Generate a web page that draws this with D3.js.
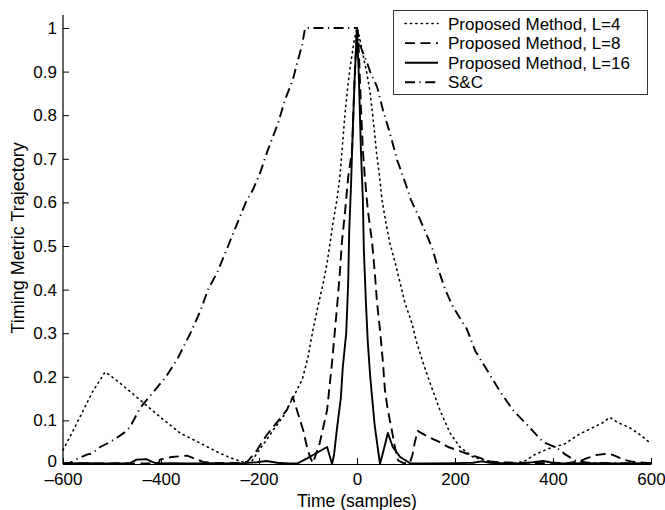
<!DOCTYPE html>
<html><head><meta charset="utf-8">
<script src="https://cdn.jsdelivr.net/npm/d3@7"></script>
<style>
body{margin:0;background:#fff;}
svg{font-family:"Liberation Sans",Arial,Helvetica,sans-serif;}
</style></head>
<body>
<svg id="c" width="665" height="510"></svg>
<script>
const xTicks = [-600,-400,-200,0,200,400,600];
const yTicks = [0,0.1,0.2,0.3,0.4,0.5,0.6,0.7,0.8,0.9,1];
const seriesNames = ["Proposed Method, L=4","Proposed Method, L=8","Proposed Method, L=16","S&C"];

const L4 = [[-600,0.032],[-580,0.075],[-560,0.12],[-540,0.165],[-514,0.211],[-500,0.2],[-484,0.186],[-463,0.166],[-443,0.147],[-422,0.127],[-402,0.108],[-381,0.089],[-361,0.071],[-340,0.059],[-320,0.048],[-300,0.036],[-280,0.025],[-262,0.016],[-245,0.009],[-228,0.003],[-215,0.006],[-204,0.025],[-188,0.05],[-171,0.078],[-150,0.11],[-131,0.151],[-112,0.193],[-100,0.245],[-90,0.307],[-80,0.36],[-69,0.415],[-61,0.461],[-55,0.507],[-49,0.553],[-41,0.606],[-35,0.658],[-31,0.713],[-24,0.81],[-18,0.874],[-14,0.91],[-6,0.97],[0,1.0],[5,0.98],[12,0.94],[20,0.897],[27,0.85],[34,0.78],[40,0.713],[46,0.66],[51,0.606],[59,0.553],[67,0.507],[78,0.461],[88,0.415],[98,0.369],[112,0.323],[122,0.278],[135,0.232],[149,0.186],[169,0.124],[190,0.071],[210,0.039],[237,0.016],[262,0.008],[290,0.003],[327,0.002],[345,0.008],[360,0.02],[390,0.035],[424,0.046],[450,0.066],[480,0.083],[502,0.095],[516,0.107],[531,0.096],[557,0.083],[578,0.067],[594,0.052],[600,0.048]];

const L8 = [[-600,0.002],[-560,0.002],[-520,0.001],[-480,0.002],[-440,0.001],[-405,0.002],[-402,0.01],[-390,0.013],[-378,0.016],[-360,0.018],[-347,0.019],[-335,0.014],[-314,0.005],[-300,0.003],[-280,0.002],[-240,0.003],[-224,0.005],[-204,0.032],[-184,0.067],[-163,0.096],[-143,0.124],[-131,0.154],[-110,0.078],[-102,0.039],[-96,0.016],[-90,0.002],[-76,0.048],[-61,0.124],[-51,0.232],[-45,0.307],[-39,0.383],[-35,0.438],[-31,0.507],[-24,0.583],[-18,0.658],[-10,0.72],[-6,0.85],[-3,0.93],[0,1.0],[3,0.97],[8,0.82],[12,0.72],[16,0.658],[22,0.583],[31,0.507],[37,0.429],[41,0.369],[47,0.307],[53,0.232],[57,0.17],[62,0.13],[67,0.1],[71,0.078],[77,0.04],[84,0.008],[95,0.002],[108,0.003],[113,0.02],[118,0.05],[124,0.076],[130,0.072],[149,0.06],[169,0.05],[186,0.039],[204,0.032],[231,0.021],[251,0.014],[271,0.006],[292,0.004],[330,0.003],[380,0.002],[430,0.002],[455,0.007],[471,0.014],[490,0.021],[506,0.023],[522,0.021],[547,0.009],[563,0.005],[600,0.002]];

const L16 = [[-600,0.001],[-560,0.002],[-520,0.001],[-480,0.001],[-463,0.002],[-450,0.01],[-430,0.011],[-418,0.005],[-408,0.001],[-380,0.002],[-340,0.001],[-300,0.002],[-260,0.001],[-230,0.002],[-204,0.004],[-185,0.007],[-163,0.003],[-140,0.001],[-122,0.001],[-100,0.014],[-80,0.027],[-61,0.039],[-51,0.0],[-47,0.02],[-41,0.08],[-33,0.151],[-29,0.222],[-22,0.3],[-18,0.415],[-16,0.53],[-12,0.645],[-10,0.72],[-5,0.88],[0,1.0],[4,0.88],[8,0.72],[12,0.605],[14,0.49],[18,0.376],[22,0.28],[27,0.2],[31,0.15],[36,0.09],[41,0.048],[47,0.0],[55,0.035],[63,0.071],[73,0.039],[88,0.016],[108,0.002],[140,0.001],[200,0.002],[237,0.003],[254,0.006],[271,0.003],[300,0.001],[340,0.002],[359,0.004],[380,0.007],[394,0.004],[420,0.001],[480,0.002],[540,0.001],[600,0.002]];

const SC = [[-600,0.0],[-585,0.003],[-569,0.013],[-550,0.022],[-541,0.024],[-524,0.039],[-510,0.047],[-490,0.06],[-475,0.072],[-463,0.085],[-443,0.128],[-412,0.17],[-390,0.2],[-367,0.24],[-340,0.3],[-320,0.35],[-304,0.4],[-285,0.44],[-263,0.5],[-245,0.55],[-227,0.6],[-212,0.63],[-198,0.667],[-182,0.72],[-161,0.782],[-147,0.835],[-131,0.881],[-122,0.92],[-112,0.961],[-106,1.0],[0,1.0],[6,0.961],[20,0.922],[27,0.899],[41,0.865],[53,0.812],[67,0.759],[82,0.697],[100,0.64],[110,0.606],[129,0.56],[145,0.518],[155,0.49],[165,0.45],[180,0.40],[196,0.36],[224,0.31],[241,0.26],[265,0.216],[292,0.166],[318,0.124],[353,0.083],[380,0.05],[408,0.037],[425,0.022],[445,0.008],[470,0.003],[520,0.002],[600,0.002]];

const seriesData = [L4, L8, L16, SC];
const dashes = ["1.2,4.2","10,5.5",null,"10,4.5,1.2,4.5"];
const caps = ["round","butt","butt","butt"];

const svg = d3.select("#c");
const x = d3.scaleLinear().domain([-600,600]).range([63,651]);
const y = d3.scaleLinear().domain([0,1]).range([464,28]);

const line = d3.line().x(d=>x(d[0])).y(d=>y(d[1]));

// axes
const xa = svg.append("g").attr("transform","translate(0,"+y(0)+")")
  .call(d3.axisBottom(x).tickValues(xTicks).tickSizeInner(-6).tickSizeOuter(0).tickPadding(9)
    .tickFormat(d=>d<0?"\u2013"+Math.abs(d):d));
const ya = svg.append("g").attr("transform","translate("+x(-600)+",0)")
  .call(d3.axisLeft(y).tickValues(yTicks).tickSizeInner(-6).tickSizeOuter(0).tickPadding(6)
    .tickFormat(d=>d===0?"0":(d===1?"1":d3.format(".1f")(d))));
ya.select(".domain").attr("d","M0,"+y(0)+"V"+y(1.03));
[xa,ya].forEach(g=>{
  g.selectAll("text").attr("font-size",17).attr("fill","#000").attr("font-family","'Liberation Sans',Arial,sans-serif");
  g.selectAll("line").attr("stroke","#000").attr("stroke-width",1);
  g.select(".domain").attr("stroke","#000").attr("stroke-width",1.2);
});
// nudge the y "0" label up a little so it clears the x tick labels
ya.selectAll(".tick").filter(d=>d===0).select("text").attr("dy","0.12em");

// series
seriesData.forEach((s,i)=>{
  svg.append("path").datum(s).attr("d",line)
    .attr("fill","none").attr("stroke","#000")
    .attr("stroke-width", i===0?1.6:1.9)
    .attr("stroke-linecap",caps[i])
    .attr("stroke-linejoin","round")
    .attr("stroke-dasharray",dashes[i]);
});

// axis labels
svg.append("text").attr("x",357).attr("y",507).attr("text-anchor","middle")
  .attr("font-size",17.5).text("Time (samples)");
svg.append("text").attr("transform","translate(24,"+238+") rotate(-90)")
  .attr("text-anchor","middle").attr("font-size",18).text("Timing Metric Trajectory");

// legend
const lg = svg.append("g");
lg.append("rect").attr("x",393.5).attr("y",10.5).attr("width",254).attr("height",84)
  .attr("fill","#fff").attr("stroke","#333").attr("stroke-width",1);
seriesNames.forEach((n,i)=>{
  const yy = 23.5 + i*19.6;
  lg.append("line").attr("x1",405).attr("x2",438).attr("y1",yy).attr("y2",yy)
    .attr("stroke","#000").attr("stroke-width",i===0?1.6:1.9)
    .attr("stroke-linecap",caps[i]).attr("stroke-dasharray",dashes[i]);
  lg.append("text").attr("x",448).attr("y",yy+6).attr("font-size",17).text(n);
});
</script>
</body></html>
